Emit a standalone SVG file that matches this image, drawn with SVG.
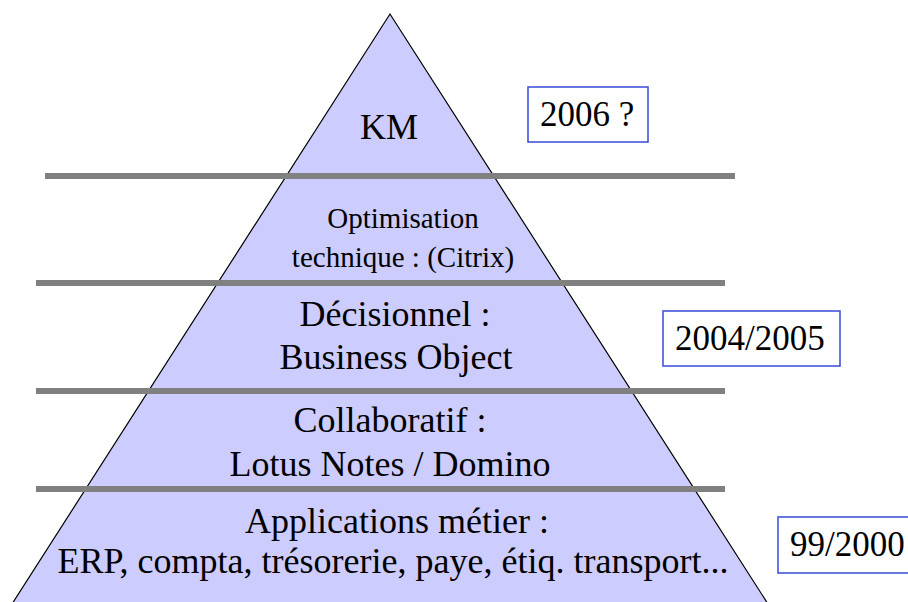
<svg xmlns="http://www.w3.org/2000/svg" width="908" height="602" viewBox="0 0 908 602">
  <style>
    .lbl { font-family: "Liberation Serif", "Times New Roman", serif; fill: #000; text-anchor: middle; }
    .big { font-size: 36px; }
    .small { font-size: 29px; }
    .sep { stroke: #808080; stroke-width: 6; }
    .year rect { fill: #fff; stroke: #4455dd; stroke-width: 1.6; }
    .year text { font-family: "Liberation Serif", "Times New Roman", serif; font-size: 35px; fill: #000; }
  </style>
  <rect width="908" height="602" fill="#fff"/>

  <!-- pyramid body -->
  <g id="pyramid">
    <polygon points="390,14 12,604 768,604" fill="#ccccff" stroke="#000" stroke-width="1.2"/>
  </g>

  <!-- level separators -->
  <g id="separators">
    <line class="sep" x1="45" y1="176" x2="735" y2="176"/>
    <line class="sep" x1="36" y1="283" x2="725" y2="283"/>
    <line class="sep" x1="36" y1="391" x2="725" y2="391"/>
    <line class="sep" x1="36" y1="489" x2="725" y2="489"/>
  </g>

  <g id="level-km">
    <text class="lbl big" x="389" y="139">KM</text>
  </g>
  <g id="level-optimisation">
    <text class="lbl small" x="403" y="228">Optimisation</text>
    <text class="lbl small" x="403" y="267">technique : (Citrix)</text>
  </g>
  <g id="level-decisionnel">
    <text class="lbl big" x="395" y="326">Décisionnel :</text>
    <text class="lbl big" x="396" y="369">Business Object</text>
  </g>
  <g id="level-collaboratif">
    <text class="lbl big" x="390" y="432">Collaboratif :</text>
    <text class="lbl big" x="390" y="476">Lotus Notes / Domino</text>
  </g>
  <g id="level-applications">
    <text class="lbl big" x="397" y="533">Applications métier :</text>
    <text class="lbl big" x="393" y="573">ERP, compta, trésorerie, paye, étiq. transport...</text>
  </g>

  <!-- dates -->
  <g id="year-2006" class="year">
    <rect x="528" y="87" width="120" height="55"/>
    <text x="540" y="126">2006 ?</text>
  </g>
  <g id="year-2004" class="year">
    <rect x="663" y="311" width="177" height="55"/>
    <text x="675" y="350">2004/2005</text>
  </g>
  <g id="year-1999" class="year">
    <rect x="778" y="517" width="140" height="56"/>
    <text x="790" y="556">99/2000</text>
  </g>
</svg>
